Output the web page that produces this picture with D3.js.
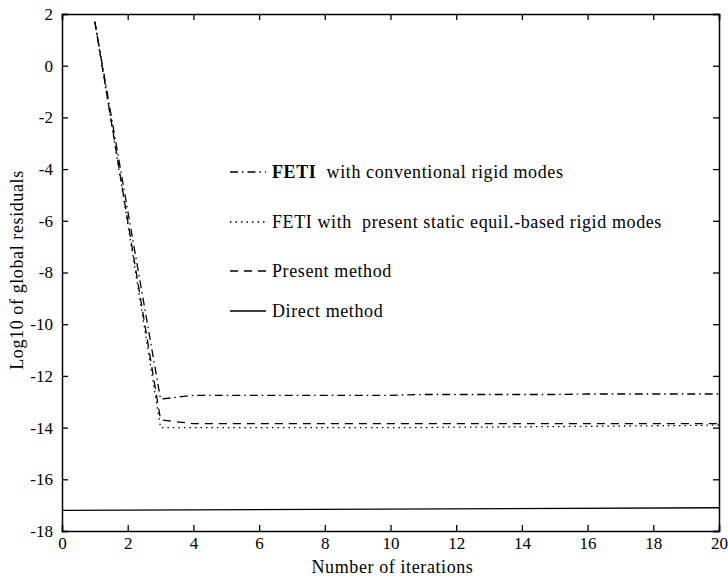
<!DOCTYPE html>
<html>
<head>
<meta charset="utf-8">
<script src="https://cdn.jsdelivr.net/npm/d3@7"></script>
<style>
  body { margin: 0; background: #fff; }
  text { font-family: "Liberation Serif", "Times New Roman", serif; fill: #000; }
</style>
</head>
<body>
<div id="chart"></div>
<script>
// data
const iterations = [1, 2, 3, 4, 5, 6, 7, 8, 9, 10, 11, 12, 13, 14, 15, 16, 17, 18, 19, 20];
const fetiConventional = [1.7, -5.6, -12.9, -12.75, -12.75, -12.75, -12.75, -12.75, -12.75, -12.75, -12.72, -12.72, -12.72, -12.72, -12.72, -12.7, -12.7, -12.7, -12.7, -12.7];
const fetiStatic = [1.7, -6.1, -14.0, -14.0, -14.0, -14.0, -14.0, -14.0, -14.0, -14.0, -14.0, -13.98, -13.98, -13.97, -13.96, -13.95, -13.94, -13.93, -13.92, -13.9];
const presentMethod = [1.7, -6.0, -13.7, -13.85, -13.85, -13.85, -13.85, -13.85, -13.85, -13.85, -13.85, -13.85, -13.85, -13.85, -13.85, -13.85, -13.85, -13.85, -13.85, -13.85];
const directX = [0, 20];
const directMethod = [-17.2, -17.1];
const xTicks = [0, 2, 4, 6, 8, 10, 12, 14, 16, 18, 20];
const yTicks = [2, 0, -2, -4, -6, -8, -10, -12, -14, -16, -18];

const legendItems = [
    { bold: "FETI", label: "  with conventional rigid modes", dash: "8,4,1.5,4" },
    { bold: "", label: "FETI with  present static equil.-based rigid modes", dash: "1.5,4" },
    { bold: "", label: "Present method", dash: "8,6" },
    { bold: "", label: "Direct method", dash: null }
];

const margin = { top: 14, right: 9, bottom: 45, left: 62 };
const width = 728 - margin.left - margin.right;
const height = 576 - margin.top - margin.bottom;

const svg = d3.select("#chart")
    .append("svg")
    .attr("width", 728)
    .attr("height", 576)
    .append("g")
    .attr("transform", `translate(${margin.left},${margin.top})`);

const x = d3.scaleLinear().domain([0, 20]).range([0, width]);
const y = d3.scaleLinear().domain([-18, 2]).range([height, 0]);

// axes with inward ticks, mirrored on top and right
const fontSize = "18px";
const spacing = "0.6px";
const axisBottomG = svg.append("g")
    .attr("transform", `translate(0,${height})`)
    .call(d3.axisBottom(x).tickValues(xTicks).tickSize(-6).tickPadding(6).tickFormat(d3.format("d")));
const axisLeftG = svg.append("g")
    .call(d3.axisLeft(y).tickValues(yTicks).tickSize(-6).tickPadding(9).tickFormat(d => d < 0 ? "-" + Math.abs(d) : d));
const axisTopG = svg.append("g")
    .call(d3.axisTop(x).tickValues(xTicks).tickSize(-6).tickFormat(""));
const axisRightG = svg.append("g")
    .attr("transform", `translate(${width},0)`)
    .call(d3.axisRight(y).tickValues(yTicks).tickSize(-6).tickFormat(""));

[axisBottomG, axisLeftG, axisTopG, axisRightG].forEach(g => {
    g.selectAll("path").attr("stroke-width", 1.5);
    g.selectAll("line").attr("stroke-width", 1.3);
    g.selectAll("text").style("font-family", "Liberation Serif, serif").style("font-size", "17px");
});

// axis titles
svg.append("text")
    .attr("x", width / 2 + 2)
    .attr("y", height + 42)
    .style("text-anchor", "middle")
    .style("font-size", fontSize)
    .style("letter-spacing", spacing)
    .text("Number of iterations");

svg.append("text")
    .attr("x", -256)
    .attr("y", -margin.left + 23)
    .attr("transform", "rotate(-90)")
    .style("text-anchor", "middle")
    .style("font-size", fontSize)
    .style("letter-spacing", spacing)
    .text("Log10 of global residuals");

// lines
const line = d3.line().x(d => x(d[0])).y(d => y(d[1]));
const series = [
    { xs: iterations, ys: fetiConventional, dash: legendItems[0].dash },
    { xs: iterations, ys: fetiStatic, dash: legendItems[1].dash },
    { xs: iterations, ys: presentMethod, dash: legendItems[2].dash },
    { xs: directX, ys: directMethod, dash: null }
];

series.forEach(s => {
    svg.append("path")
        .datum(s.xs.map((v, i) => [v, s.ys[i]]))
        .attr("fill", "none")
        .attr("stroke", "#000")
        .attr("stroke-width", 1.3)
        .attr("stroke-dasharray", s.dash)
        .attr("d", line);
});

// legend
const legendY = [158, 208, 257, 297];
const legend = svg.append("g").attr("transform", `translate(${230 - margin.left},0)`);
legendItems.forEach((item, i) => {
    legend.append("line")
        .attr("x1", 0)
        .attr("x2", 36)
        .attr("y1", legendY[i])
        .attr("y2", legendY[i])
        .attr("stroke", "#000")
        .attr("stroke-width", 1.3)
        .attr("stroke-dasharray", item.dash);
    const t = legend.append("text")
        .attr("x", 42)
        .attr("y", legendY[i] + 6)
        .style("font-size", fontSize)
        .style("letter-spacing", spacing)
        .attr("xml:space", "preserve")
        .style("white-space", "pre");
    if (item.bold) t.append("tspan").style("font-weight", "600").text(item.bold);
    t.append("tspan").text(item.label);
});
</script>
</body>
</html>
